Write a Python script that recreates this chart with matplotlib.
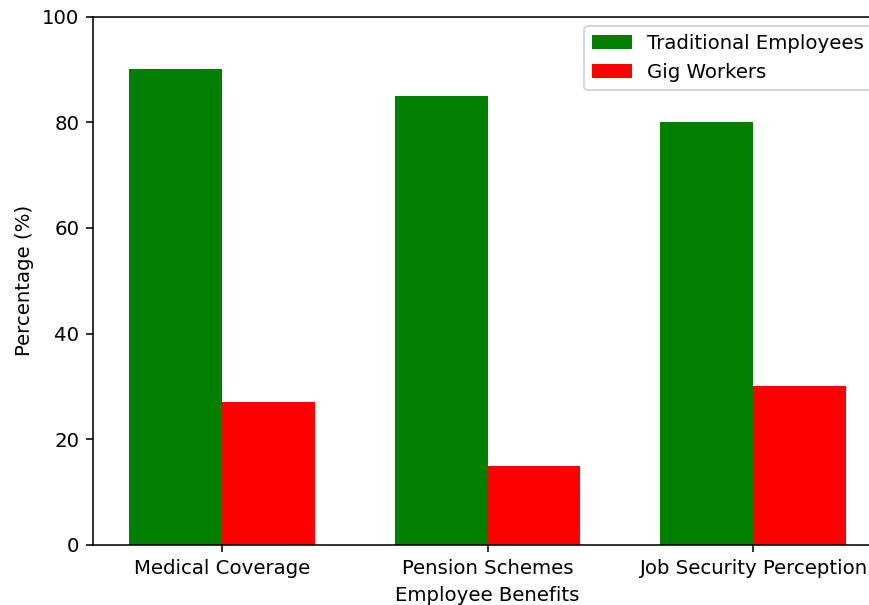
import numpy as np
import matplotlib
matplotlib.use("Agg")
import matplotlib.pyplot as plt

categories = ["Medical Coverage", "Pension Schemes", "Job Security Perception"]
traditional = [90, 85, 80]
gig = [27, 15, 30]

dpi = 142
fig = plt.figure(figsize=(869 / dpi, 605 / dpi), dpi=dpi)
ax = fig.add_axes([93 / 869, 1 - 545 / 605, (882 - 93) / 869, (545 - 16.5) / 605])

x = np.arange(len(categories))
width = 0.35
ax.bar(x - width / 2, traditional, width, color="green", label="Traditional Employees")
ax.bar(x + width / 2, gig, width, color="red", label="Gig Workers")

ax.set_xticks(x)
ax.set_xticklabels(categories)
ax.set_xlabel("Employee Benefits")
ax.set_ylabel("Percentage (%)")
ax.set_ylim(0, 100)
ax.legend(loc="upper right")

fig.savefig("out.png", dpi=dpi)
